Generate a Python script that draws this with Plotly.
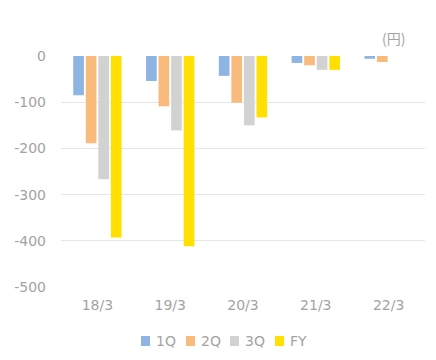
import plotly.graph_objects as go

categories = ["18/3", "19/3", "20/3", "21/3", "22/3"]
q1 = [-85, -54, -43, -15, -6]
q2 = [-189, -109, -101, -20, -13]
q3 = [-267, -161, -150, -30, None]
fy = [-393, -412, -133, -30, None]
series_names = ["1Q", "2Q", "3Q", "FY"]
colors = ["#8EB4E3", "#F8BB7B", "#D2D2D2", "#FFE000"]
y_ticks = [0, -100, -200, -300, -400, -500]
y_tick_text = ["0", "-100", "-200", "-300", "-400", "-500"]

# page offset (browser body margin) compensation
W, H = 428, 352
L, R, T, B = 53, 11, 48, 73
PW, PH = W - L - R, H - T - B
OX, OY = 8, 8


def px_x(X):
    return (X - OX - L) / PW


def px_y(Y):
    return (OY + T + PH - Y) / PH


fig = go.Figure()
for name, vals, c in zip(series_names, [q1, q2, q3, fy], colors):
    fig.add_trace(go.Bar(x=categories, y=vals, name=name, marker_color=c,
                         marker_line_width=0, showlegend=False))

font_color = "#A3A3A3"
fam = "DejaVu Sans"

shapes = []
annotations = []
leg_x0 = [141, 186, 230, 275]
for name, c, x0 in zip(series_names, colors, leg_x0):
    shapes.append(dict(type="rect", xref="paper", yref="paper",
                       x0=px_x(x0), x1=px_x(x0 + 9), y0=px_y(346), y1=px_y(336),
                       fillcolor=c, line_width=0))
    annotations.append(dict(text=name, xref="paper", yref="paper", x=px_x(x0 + 13),
                            y=px_y(341), xanchor="left", yanchor="middle",
                            showarrow=False, font=dict(size=14, color=font_color)))
annotations.append(dict(text="(円)", x=px_x(407), xref="paper", y=px_y(38), yref="paper",
                        xanchor="right", yanchor="middle", showarrow=False,
                        font=dict(family="Noto Sans CJK JP", size=14, color=font_color)))

fig.update_layout(
    width=W, height=H,
    paper_bgcolor="white", plot_bgcolor="white",
    margin=dict(l=L, r=R, t=T, b=B, autoexpand=False),
    barmode="group", bargap=0.31, bargroupgap=0.15,
    font=dict(family=fam, size=14, color=font_color),
    showlegend=False,
    xaxis=dict(showgrid=False, showline=False, ticks="", automargin=False,
               ticklabelstandoff=8, tickfont=dict(size=14, color=font_color)),
    yaxis=dict(range=[-500, 0], tickvals=y_ticks, ticktext=y_tick_text,
               showgrid=True, gridcolor="#E6E6E6", automargin=False,
               gridwidth=1, zeroline=False, ticks="", ticklabelstandoff=14,
               tickfont=dict(size=14, color=font_color)),
    shapes=shapes,
    annotations=annotations,
)
fig.write_html("out.html")
